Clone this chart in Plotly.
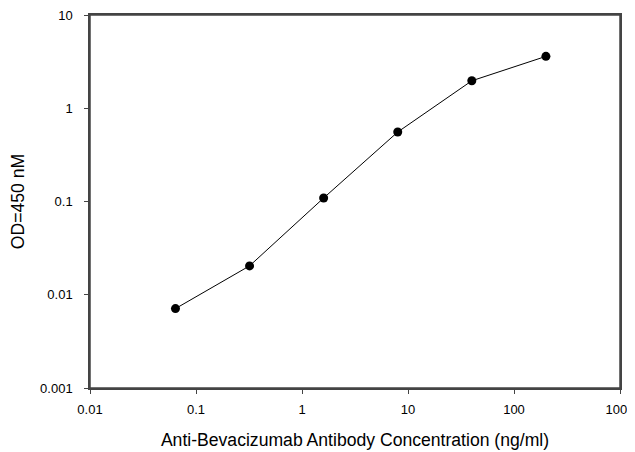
import plotly.graph_objects as go

concentration = [0.064, 0.32, 1.6, 8, 40, 200]
od450 = [0.0071, 0.0204, 0.109, 0.556, 1.97, 3.6]

x_ticks = [0.01, 0.1, 1, 10, 100, 1000]
x_ticktext = ["0.01", "0.1", "1", "10", "100", "1000"]
y_ticks = [0.001, 0.01, 0.1, 1, 10]
y_ticktext = ["0.001", "0.01", "0.1", "1", "10"]

fig = go.Figure()
fig.add_trace(go.Scatter(
    x=concentration, y=od450, mode="lines+markers",
    line=dict(color="black", width=1),
    marker=dict(color="black", size=9),
    showlegend=False,
    cliponaxis=False,
))

axis_common = dict(
    automargin=False,
    showgrid=False, zeroline=False, showline=True, linecolor="#444444", linewidth=1.5,
    mirror=True, ticks="outside", ticklen=4, tickcolor="#444444", tickwidth=1,
    ticklabeloverflow="allow",
    tickfont=dict(family="Liberation Sans, Arial", size=13, color="black"),
)

# page body has an 8px margin, so the figure is sized to fit the 635x452 window
fig.update_layout(
    template="none",
    width=627, height=444,
    margin=dict(l=82, r=15, t=7, b=64, pad=0),
    paper_bgcolor="white", plot_bgcolor="white",
    font=dict(family="Liberation Sans, Arial", color="black"),
    xaxis=dict(type="log", range=[-2, 3], tickvals=x_ticks, ticktext=x_ticktext,
               ticklabelstandoff=5,
               title=dict(text="Anti-Bevacizumab Antibody Concentration (ng/ml)",
                          font=dict(size=17.6), standoff=17),
               **axis_common),
    yaxis=dict(type="log", range=[-3, 1], tickvals=y_ticks, ticktext=y_ticktext,
               ticklabelstandoff=9,
               title=dict(text="OD=450 nM", font=dict(size=17.6), standoff=12),
               **axis_common),
    shapes=[dict(type="rect", xref="paper", yref="paper", x0=0, y0=0, x1=1, y1=1,
                 line=dict(color="#444444", width=1.5), layer="above")],
)

fig.write_html("out.html")
